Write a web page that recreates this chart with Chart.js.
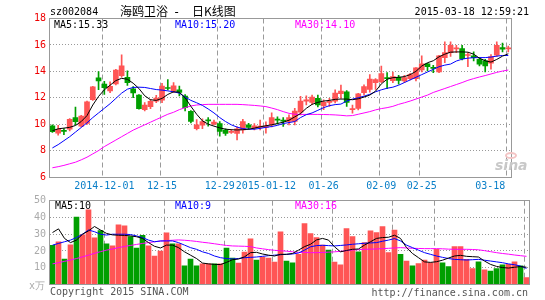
<!DOCTYPE html>
<html><head><meta charset="utf-8">
<script src="https://cdn.jsdelivr.net/npm/chart.js@4"></script>
<style>
html,body{margin:0;padding:0;background:#fff;}
#wrap{position:relative;width:545px;height:300px;overflow:hidden;font-family:"DejaVu Sans Mono",monospace;font-size:10px;}
canvas{position:absolute;left:0;}
.t{position:absolute;white-space:pre;line-height:12px;}
.cjk{font-family:'Noto Sans CJK SC',sans-serif;font-size:12px;line-height:14px;color:#000;}
</style></head><body>
<div id="wrap">
<canvas id="k" width="545" height="196" style="top:0"></canvas>
<canvas id="v" width="545" height="110" style="top:190px"></canvas>
<div class="t" style="left:50px;top:6px;color:#000">sz002084</div>
<div class="t cjk" style="left:120px;top:4px">海鸥卫浴</div>
<div class="t" style="left:173px;top:4.5px;color:#000;font-size:12px;line-height:14px">-</div>
<div class="t cjk" style="left:192px;top:4px">日K线图</div>
<div class="t" style="right:16px;top:6px;color:#000">2015-03-18 12:59:21</div>
<div class="t" style="left:54px;top:18.5px;color:#000">MA5:15.33</div>
<div class="t" style="left:175px;top:18.5px;color:#0000ff">MA10:15.20</div>
<div class="t" style="left:295px;top:18.5px;color:#ff00ff">MA30:14.10</div>
<div class="t" style="left:55px;top:200px;color:#000">MA5:10</div>
<div class="t" style="left:175px;top:200px;color:#0000ff">MA10:9</div>
<div class="t" style="left:295px;top:200px;color:#ff00ff">MA30:16</div>
<div class="t" style="left:29px;top:280px;color:#aaa">x万</div>
<div class="t" style="left:50px;top:286px;color:#555">Copyright 2015 SINA.COM</div>
<div class="t" style="right:17px;top:286.5px;color:#555">http://finance.sina.com.cn</div>
<div class="t" style="left:495px;top:157px;color:#c8c8c8;font-family:'DejaVu Sans',sans-serif;font-size:14px;font-weight:bold;font-style:italic;line-height:16px">sina</div>
<div style="position:absolute;left:505px;top:152px;width:12px;height:7px;border:2px solid #f3c4c4;border-radius:50%;box-sizing:border-box"></div>
</div>
<script>
const dates = ['2014-11-18','2014-11-19','2014-11-20','2014-11-21','2014-11-24','2014-11-25','2014-11-26','2014-11-27','2014-11-28',
'2014-12-01','2014-12-02','2014-12-03','2014-12-04','2014-12-05','2014-12-08','2014-12-09','2014-12-10','2014-12-11','2014-12-12',
'2014-12-15','2014-12-16','2014-12-17','2014-12-18','2014-12-19','2014-12-22','2014-12-23','2014-12-24','2014-12-25','2014-12-26',
'2014-12-29','2014-12-30','2014-12-31',
'2015-01-05','2015-01-06','2015-01-07','2015-01-08','2015-01-09','2015-01-12','2015-01-13','2015-01-14','2015-01-15','2015-01-16',
'2015-01-19','2015-01-20','2015-01-21','2015-01-22','2015-01-23','2015-01-26','2015-01-27','2015-01-28','2015-01-29','2015-01-30',
'2015-02-02','2015-02-03','2015-02-04','2015-02-05','2015-02-06','2015-02-09','2015-02-10','2015-02-11','2015-02-12','2015-02-13',
'2015-02-16','2015-02-17','2015-02-25','2015-02-26','2015-02-27',
'2015-03-02','2015-03-03','2015-03-04','2015-03-05','2015-03-06','2015-03-09','2015-03-10','2015-03-11','2015-03-12','2015-03-13',
'2015-03-16','2015-03-17','2015-03-18'];

const open = [9.88,9.31,9.5,9.62,10.49,9.85,10.05,11.85,13.5,13.03, 12.52,13.05,13.68,13.55,12.68,12.2,11.1,11.33,11.75,11.82, 12.75,12.52,12.6,12.12,10.98,9.65,9.92,10.3,10.0,10.05, 9.55,9.38,9.3,9.56,9.95,9.7,9.75,9.75,9.95,10.35, 10.3,10.2,10.2,10.9,11.75,11.65,11.95,11.4,11.65,11.75, 12.3,12.45,11.1,11.2,12.39,12.64,13.15,13.22,13.53,13.3, 13.55,13.27,13.45,13.45,14.1,14.56,14.3,13.95,15.04,15.42, 15.7,15.72,15.2,15.17,14.91,14.79,14.61,15.22,15.8,15.7];
const high = [9.95,9.92,9.66,10.42,11.3,10.67,11.75,12.86,13.98,13.25, 13.2,14.16,15.25,14.03,12.84,12.24,11.63,11.88,12.19,13.09, 13.38,13.15,12.89,12.24,11.03,10.35,10.4,10.5,10.3,10.2, 9.65,9.6,9.8,10.37,10.07,10.05,10.3,10.17,10.85,10.55, 10.5,10.7,11.2,12.1,12.15,12.2,12.2,11.85,11.95,12.6, 12.95,12.55,11.45,12.34,12.97,13.75,13.45,14.4,13.9,13.95, 13.7,13.7,13.85,14.28,15.17,14.61,14.46,15.22,16.23,16.23, 15.97,15.97,15.42,15.47,15.04,14.91,15.27,16.23,16.13,15.92];
const low = [9.38,9.16,9.2,9.48,9.95,9.8,9.99,11.8,12.62,12.26, 12.39,12.97,13.55,12.94,12.0,11.13,11.0,11.18,11.63,11.63, 12.6,12.39,12.14,11.0,10.1,9.56,9.65,9.85,9.95,9.1, 9.15,9.3,8.8,9.31,9.61,9.56,9.56,9.31,9.8,10.0, 9.82,9.95,9.95,10.7,11.45,11.5,11.3,11.1,11.35,11.6, 11.95,11.35,10.83,11.07,12.21,12.42,12.64,13.15,12.69,13.15, 13.02,13.15,13.35,13.27,13.95,14.03,13.9,13.9,14.66,15.12, 15.42,14.86,14.36,14.79,14.41,13.95,14.16,15.12,15.47,15.47];
const close = [9.43,9.6,9.45,10.37,10.18,10.62,11.7,12.83,13.27,12.77, 12.87,14.1,14.42,13.15,12.37,11.17,11.44,11.72,11.97,12.89, 12.7,12.9,12.4,11.25,10.2,9.95,10.2,10.25,10.15,9.45, 9.3,9.45,9.64,10.19,9.75,9.88,9.85,9.86,10.5,10.3, 10.22,10.5,11.0,11.75,11.85,12.05,11.45,11.65,11.72,12.35, 12.5,11.65,11.18,12.29,12.84,13.42,13.38,13.83,13.45,13.6, 13.32,13.53,13.75,14.26,14.56,14.36,14.23,15.17,15.42,15.97, 15.75,14.96,15.26,15.04,14.54,14.41,15.12,15.97,15.67,15.75];

const ma5 = [9.5,9.65,9.7,9.76,9.9,10.2,10.65,11.45,12.1,12.6, 12.95,13.3,13.47,13.4,13.1,12.7,12.15,11.85,11.8,11.95, 12.25,12.45,12.42,12.0,11.35,10.75,10.25,10.0,9.85,9.72, 9.62,9.58,9.56,9.58,9.62,9.7,9.8,9.88,9.95,10.05, 10.15,10.3,10.55,10.8,11.2,11.5,11.65,11.75,11.8,11.88, 11.9,11.9,11.85,11.92,12.05,12.2,12.5,13.05,13.4,13.52, 13.55,13.6,13.75,14.0,14.4,14.65,14.8,15.1,15.3,15.45, 15.47,15.47,15.45,15.3,15.0,14.8,14.7,14.9,15.15,15.33];
const ma10 = [8.2,8.45,8.75,9.05,9.4,9.75,10.1,10.5,10.85,11.2, 11.55,11.95,12.35,12.65,12.78,12.8,12.78,12.7,12.62,12.58, 12.52,12.45,12.35,12.05,11.8,11.62,11.42,11.15,10.85,10.5, 10.2,9.95,9.78,9.66,9.62,9.62,9.68,9.76,9.82,9.91, 10.05,10.12,10.2,10.5,10.72,10.85,11.05,11.25,11.4,11.48, 11.52,11.75,11.9,12.0,12.12,12.26,12.45,12.6,12.72,12.8, 12.95,13.15,13.35,13.55,13.75,13.95,14.15,14.35,14.47,14.55, 14.78,14.92,15.0,15.03,15.04,15.04,15.08,15.15,15.2,15.2];
const ma30 = [6.7,6.78,6.88,7.0,7.12,7.3,7.5,7.75,8.0,8.3, 8.55,8.8,9.05,9.3,9.55,9.75,9.95,10.15,10.35,10.55, 10.75,10.9,11.1,11.25,11.38,11.45,11.48,11.5,11.5,11.5, 11.5,11.5,11.5,11.48,11.45,11.42,11.38,11.33,11.22,11.1, 10.95,10.82,10.75,10.74,10.74,10.74,10.74,10.73,10.72,10.7, 10.67,10.63,10.65,10.75,10.85,10.95,11.08,11.18,11.25,11.35, 11.5,11.62,11.75,11.9,12.05,12.2,12.4,12.55,12.7,12.85, 13.0,13.15,13.32,13.45,13.57,13.68,13.8,13.92,14.02,14.1];

const volume = [23.4,25.4,15.2,23.6,40.3,29.6,44.5,27.8,32.2,24.2, 23.0,35.6,35.0,28.6,21.8,29.4,23.0,17.0,20.0,30.8, 24.2,24.2,11.1,15.2,11.1,12.3,12.3,12.3,12.3,21.8, 15.8,12.8,19.4,27.2,14.6,16.4,15.8,13.4,31.4,14.0, 13.0,18.0,36.4,30.4,28.0,23.5,20.6,13.4,11.7,33.4, 28.6,19.5,25.0,32.0,31.0,34.6,19.0,32.4,18.0,14.0, 11.1,12.5,14.6,13.0,21.0,13.0,10.7,22.6,22.6,15.0, 9.5,13.6,8.7,8.0,9.5,11.7,12.0,13.6,11.1,4.1];
const vma5 = [31,33.2,27.5,25,26.5,30,32,34.6,32.5,30.5, 29.6,29.4,29.3,29,28.5,27.5,25,22.8,21.8,23.5, 23.5,22,19.5,17.5,15.5,12.8,12.3,12,11.9,13.2, 14.8,15.2,16.5,19,19.2,18.2,17.5,17,18,18, 18.5,20.5,22.6,24,26.6,27.5,26.5,22.5,19.5,20.3, 21,21.2,23.5,25.5,27.5,28,28.2,29.4,27.5,22, 18.5,16,13.5,13.2,13.6,14.5,15.8,17,17.4,16.8, 16.6,16.4,14,12,10.8,10.1,9.8,10.3,10.7,10.3];
const vma10 = [23.5,24.5,25.5,26.5,28,30,32.5,31.5,30,29.5, 30,30,30,29.8,29,28,26.5,25.5,26,26, 26,25,23.5,22,21,19.5,18.5,17,16,15.5, 15.2,15.5,16,16.2,16.4,16.8,17.2,17.5,17.8,18, 18.2,18.8,20.5,22.5,23.2,23.4,23.2,23,23.3,23.6, 24,24.3,24.6,24.8,25,25.8,26.5,27.4,26,23.5, 22,20.5,19,18,17,16.2,15.5,15,14.8,14.6, 14.8,15,14.5,14,13.5,13,12.3,11.8,11,9.6];
const vma30 = [12.3,13,13.8,14.6,15.5,16.5,17.5,18.6,19.6,20.5, 21.2,22,22.7,23.3,23.9,24.5,25,25.5,25.9,26.2, 26.4,26.6,26.4,26.1,25.7,25.2,24.8,24.3,23.8,23.3, 23,22.9,22.8,22.6,21.8,21.3,20.8,20.4,20.1,19.9, 19.5,19.2,19.1,19.0,19.0,19.1,19.3,19.5,19.8,20.2, 20.6,20.8,21,21.1,21.2,21.4,21.6,21.8,22,21.8, 21.6,21.5,21.4,21.4,21.4,21.3,21.1,21,21,21, 20.9,20.7,20.2,19.6,19,18.5,18.1,17.6,17.2,16.8];

const tickDates = ['2014-12-01','2014-12-15','2014-12-29','2015-01-12','2015-01-26','2015-02-09','2015-02-25','2015-03-18'];
const tickText = ['2014-12-01','12-15','12-29','2015-01-12','01-26','02-09','02-25','03-18'];
const priceTicks = [6, 8, 10, 12, 14, 16, 18];
const volumeTicks = [0, 10, 20, 30, 40, 50];

const UP = '#ff5555', DOWN = '#009f00';
const candleColor = dates.map((d, i) => close[i] >= open[i] ? UP : DOWN);
const bodies = dates.map((d, i) => [open[i], close[i]]);
const wicks = dates.map((d, i) => [low[i], high[i]]);
const tickIdx = tickDates.map(d => dates.indexOf(d));
const tickMap = {};
tickIdx.forEach((ix, k) => {
  // the last label is pushed left so it stays inside the frame
  tickMap[ix] = (ix === dates.length - 1) ? tickText[k] + '      ' : tickText[k];
});

const MONO = {family: 'DejaVu Sans Mono', size: 10};

const framePlugin = {
  id: 'frame',
  beforeDatasetsDraw(chart) {
    const {ctx, chartArea: a, scales: {x}} = chart;
    ctx.save();
    ctx.strokeStyle = '#9a9a9a';
    ctx.lineWidth = 1;
    ctx.setLineDash([5, 3]);
    tickIdx.forEach(i => {
      const px = Math.floor(x.getPixelForValue(i) - 2) + 0.5;
      ctx.beginPath();
      ctx.moveTo(px, a.top);
      ctx.lineTo(px, a.bottom);
      ctx.stroke();
    });
    ctx.restore();
  },
  afterDatasetsDraw(chart) {
    const {ctx, chartArea: a} = chart;
    ctx.save();
    ctx.strokeStyle = '#999';
    ctx.lineWidth = 1;
    const l = Math.floor(a.left) + 0.5, t = Math.floor(a.top) + 0.5;
    const r = Math.floor(a.right) + 0.5, b = Math.floor(a.bottom) + 0.5;
    ctx.strokeRect(l, t, r - l, b - t);
    ctx.restore();
  }
};

function lineDs(data, color) {
  return {type: 'line', data, borderColor: color, borderWidth: 1, pointRadius: 0, tension: 0, fill: false, order: 0};
}

new Chart(document.getElementById('k'), {
  type: 'bar',
  data: {
    labels: dates,
    datasets: [
      lineDs(ma5, '#000000'),
      lineDs(ma10, '#0000ff'),
      lineDs(ma30, '#ff00ff'),
      {type: 'bar', data: bodies, backgroundColor: candleColor, barThickness: 5, grouped: false, minBarLength: 1, borderWidth: 0, order: 1},
      {type: 'bar', data: wicks, backgroundColor: candleColor, barThickness: 1, grouped: false, borderWidth: 0, order: 2}
    ]
  },
  options: {
    responsive: false, animation: false, events: [],
    layout: {padding: {left: 0, right: 15.5, top: 18.5, bottom: 0}},
    plugins: {legend: {display: false}, tooltip: {enabled: false}},
    scales: {
      x: {
        type: 'category', offset: true,
        grid: {display: false, drawTicks: false}, border: {display: false},
        ticks: {autoSkip: false, maxRotation: 0, minRotation: 0, padding: 3.5, color: '#0a7fc8', font: MONO,
          callback: (v, i) => tickMap[i] || ''},
        afterFit: s => { s.height = 19; }
      },
      y: {
        min: priceTicks[0], max: priceTicks[priceTicks.length - 1],
        afterBuildTicks: s => { s.ticks = priceTicks.map(v => ({value: v})); },
        ticks: {color: '#ee0000', padding: 3.5, font: MONO},
        grid: {drawTicks: false, color: c => (c.tick && (c.tick.value === 6 || c.tick.value === 18)) ? 'rgba(0,0,0,0)' : '#999'},
        border: {display: false, dash: [1, 2]},
        afterFit: s => { s.width = 49.5; }
      }
    }
  },
  plugins: [framePlugin]
});

new Chart(document.getElementById('v'), {
  type: 'bar',
  data: {
    labels: dates,
    datasets: [
      lineDs(vma5, '#000000'),
      lineDs(vma10, '#0000ff'),
      lineDs(vma30, '#ff00ff'),
      {type: 'bar', data: volume, backgroundColor: candleColor, barThickness: 5, borderWidth: 0, order: 1}
    ]
  },
  options: {
    responsive: false, animation: false, events: [],
    layout: {padding: {left: 0, right: 15.5, top: 10.7, bottom: 15.5}},
    plugins: {legend: {display: false}, tooltip: {enabled: false}},
    scales: {
      x: {type: 'category', offset: true, display: false},
      y: {
        min: 0, max: 50,
        afterBuildTicks: s => { s.ticks = volumeTicks.map(v => ({value: v})); },
        ticks: {color: '#aaaaaa', padding: 3.5, font: MONO, callback: v => v === 0 ? '' : v},
        grid: {drawTicks: false, color: c => (c.tick && (c.tick.value === 0 || c.tick.value === 50)) ? 'rgba(0,0,0,0)' : '#999'},
        border: {display: false, dash: [1, 2]},
        afterFit: s => { s.width = 49.5; }
      }
    }
  },
  plugins: [framePlugin]
});
</script>
</body></html>
